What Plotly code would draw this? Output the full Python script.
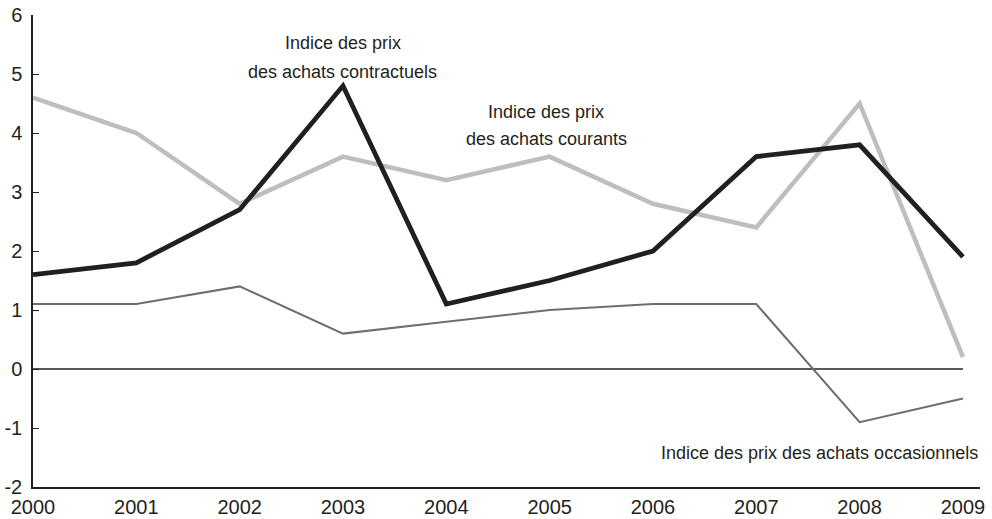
import plotly.graph_objects as go

years = [2000, 2001, 2002, 2003, 2004, 2005, 2006, 2007, 2008, 2009]
contractuels = [1.6, 1.8, 2.7, 4.8, 1.1, 1.5, 2.0, 3.6, 3.8, 1.9]
courants = [4.6, 4.0, 2.8, 3.6, 3.2, 3.6, 2.8, 2.4, 4.5, 0.2]
occasionnels = [1.1, 1.1, 1.4, 0.6, 0.8, 1.0, 1.1, 1.1, -0.9, -0.5]
y_ticks = [-2, -1, 0, 1, 2, 3, 4, 5, 6]
y_ticktext = ["-2", "-1", "0", "1", "2", "3", "4", "5", "6"]

FONT = "Liberation Sans Narrow, Arial Narrow, Liberation Sans, sans-serif"
FS_TICK = 20
FS_ANN = 18
INK = "#231f20"

fig = go.Figure()
fig.add_trace(go.Scatter(x=years, y=courants, mode="lines",
                         line=dict(color="#bcbec0", width=4.5), name="Indice des prix des achats courants"))
fig.add_trace(go.Scatter(x=years, y=occasionnels, mode="lines",
                         line=dict(color="#6d6e71", width=2), name="Indice des prix des achats occasionnels"))
fig.add_trace(go.Scatter(x=years, y=contractuels, mode="lines",
                         line=dict(color=INK, width=4.8), name="Indice des prix des achats contractuels"))

# zero line spanning the data range only
fig.add_shape(type="line", xref="x", yref="y", x0=years[0], x1=years[-1], y0=0, y1=0,
              line=dict(color=INK, width=1.3), layer="below")

ann_font = dict(size=FS_ANN, color=INK, family=FONT)
labels = [
    (2003, 5.53, "Indice des prix", "center"),
    (2003, 5.04, "des achats contractuels", "center"),
    (2004.965, 4.36, "Indice des prix", "center"),
    (2004.965, 3.90, "des achats courants", "center"),
]
for x, y, t, anc in labels:
    fig.add_annotation(x=x, y=y, text=t, showarrow=False, font=ann_font,
                       xanchor=anc, yanchor="middle")
fig.add_annotation(x=2009.165, y=-1.42, text="Indice des prix des achats occasionnels", showarrow=False,
                   font=ann_font, xanchor="right", yanchor="middle")

fig.update_layout(
    width=992, height=519,
    margin=dict(l=33, r=12, t=15, b=32),
    paper_bgcolor="white", plot_bgcolor="white",
    showlegend=False,
    font=dict(family=FONT, size=FS_TICK, color=INK),
)
fig.update_xaxes(range=[2000, 2009.165], tickvals=years, ticktext=[str(y) for y in years],
                 showgrid=False, zeroline=False, showline=True, linecolor=INK, linewidth=1.5,
                 ticks="", tickfont=dict(size=FS_TICK), automargin=False, ticklabelstandoff=1,
                 ticklabeloverflow="allow")
fig.update_yaxes(range=[-2, 6], tickvals=y_ticks, ticktext=y_ticktext, showgrid=False, zeroline=False,
                 showline=True, linecolor=INK, linewidth=1.5, ticks="inside", ticklen=6,
                 tickcolor=INK, tickfont=dict(size=FS_TICK), automargin=False, ticklabelstandoff=5,
                 ticklabeloverflow="allow")

fig.write_html("out.html", config={"displayModeBar": False},
               post_script="document.body.style.margin='0';document.body.style.overflow='hidden';")
